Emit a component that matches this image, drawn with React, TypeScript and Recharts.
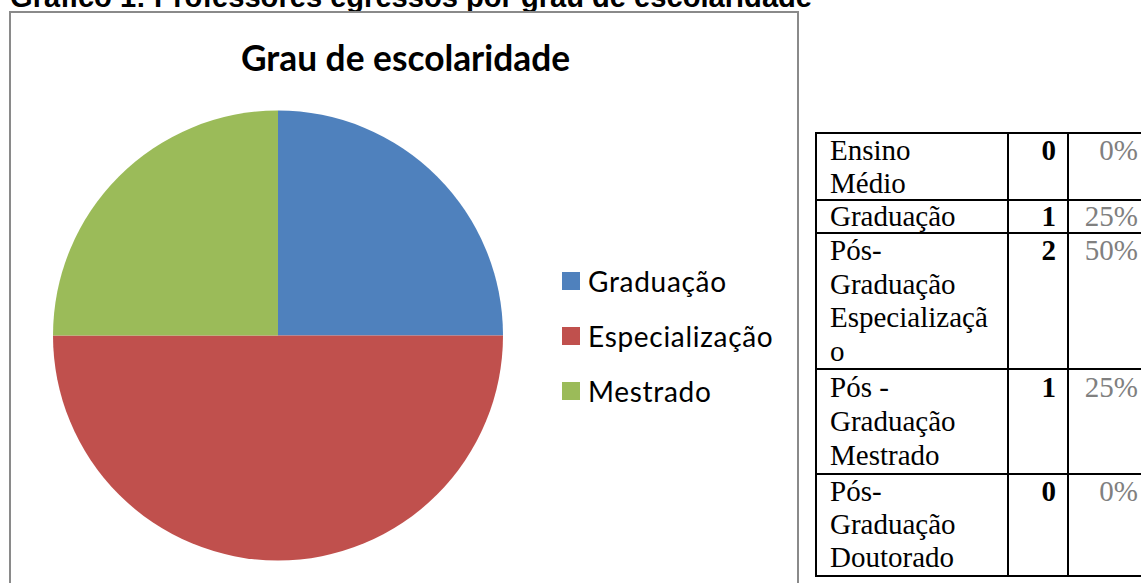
import React from "react";
import { PieChart, Pie, Cell, Legend } from "recharts";

const categories = ["Graduação", "Especialização", "Mestrado"];
const counts = [1, 2, 1];
const colors = ["#4F81BD", "#C0504D", "#9BBB59"];

const tableLabels = [
  ["Ensino", "Médio"],
  ["Graduação"],
  ["Pós-", "Graduação", "Especializaçã", "o"],
  ["Pós -", "Graduação", "Mestrado"],
  ["Pós-", "Graduação", "Doutorado"],
];
const tableCounts = [0, 1, 2, 1, 0];
const tablePercents = ["0%", "25%", "50%", "25%", "0%"];

const heading = "Gráfico 1: Professores egressos por grau de escolaridade";
const chartTitle = "Grau de escolaridade";

const pieData = categories.map((name, i) => ({ name, value: counts[i] }));

const rowHeights = [67, 33, 136, 105, 102];
const rowLineHeights = [32.5, 31, 33.5, 34, 33];

const renderLegend = (props: any) => {
  const payload = [...(props.payload || [])].sort(
    (a: any, b: any) => categories.indexOf(a.value) - categories.indexOf(b.value)
  );
  return (
    <div style={{ fontFamily: "Lato", fontSize: 28, letterSpacing: 0.7, color: "#000" }}>
      {payload.map((e: any) => {
        const idx = categories.indexOf(e.value);
        return (
          <div key={e.value} style={{ display: "flex", alignItems: "center", height: 55 }}>
            <span
              style={{
                display: "inline-block",
                width: 18,
                height: 18,
                background: colors[idx],
                marginRight: 8,
              }}
            />
            <span>{e.value}</span>
          </div>
        );
      })}
    </div>
  );
};

const cellStyle: React.CSSProperties = {
  border: "2px solid #000",
  padding: 0,
  verticalAlign: "top",
};

export default function App() {
  return (
    <div
      style={{
        position: "absolute",
        left: 0,
        top: 0,
        width: 1141,
        height: 583,
        overflow: "hidden",
        background: "#fff",
      }}
    >
      <svg width={1141} height={40} style={{ position: "absolute", left: 0, top: 0 }}>
        <text
          x={10}
          y={7}
          fontFamily="Liberation Sans"
          fontWeight="bold"
          fontSize={29.1}
          fill="#000"
        >
          {heading}
        </text>
      </svg>
      <div
        style={{
          position: "absolute",
          left: 9,
          top: 11,
          width: 786,
          height: 600,
          borderTop: "2px solid #8a8a8a",
          borderLeft: "2px solid #8a8a8a",
          borderRight: "2px solid #8a8a8a",
        }}
      />
      <div style={{ position: "absolute", left: 0, top: 0 }}>
        <PieChart width={800} height={583} margin={{ top: 0, right: 0, bottom: 0, left: 0 }}>
          <Pie
            data={pieData}
            dataKey="value"
            nameKey="name"
            cx={278}
            cy={335.5}
            outerRadius={225}
            startAngle={90}
            endAngle={-270}
            stroke="none"
            isAnimationActive={false}
          >
            {pieData.map((d, i) => (
              <Cell key={d.name} fill={colors[i]} />
            ))}
          </Pie>
          <Legend
            layout="vertical"
            align="right"
            verticalAlign="top"
            content={renderLegend}
            wrapperStyle={{ left: 562, top: 253.5, right: "auto", width: 236 }}
          />
        </PieChart>
      </div>
      <svg width={800} height={100} style={{ position: "absolute", left: 0, top: 0 }}>
        <text
          x={405.5}
          y={71}
          textAnchor="middle"
          fontFamily="Lato"
          fontWeight="bold"
          fontSize={35.3}
          fill="#000"
        >
          {chartTitle}
        </text>
      </svg>
      <table
        style={{
          position: "absolute",
          left: 815,
          top: 132,
          borderCollapse: "collapse",
          tableLayout: "fixed",
          width: 335,
          fontFamily: "Liberation Serif",
          fontSize: 29,
          color: "#000",
        }}
      >
        <colgroup>
          <col style={{ width: 192 }} />
          <col style={{ width: 60 }} />
          <col style={{ width: 83 }} />
        </colgroup>
        <tbody>
          {tableLabels.map((lines, r) => (
            <tr key={r} style={{ height: rowHeights[r], lineHeight: rowLineHeights[r] + "px" }}>
              <td style={{ ...cellStyle, paddingLeft: 13 }}>
                {lines.map((l, k) => (
                  <div key={k}>{l}</div>
                ))}
              </td>
              <td
                style={{
                  ...cellStyle,
                  textAlign: "right",
                  paddingRight: 11,
                  fontWeight: "bold",
                }}
              >
                {tableCounts[r]}
              </td>
              <td
                style={{
                  ...cellStyle,
                  textAlign: "right",
                  paddingRight: 12,
                  color: "#808080",
                }}
              >
                {tablePercents[r]}
              </td>
            </tr>
          ))}
        </tbody>
      </table>
    </div>
  );
}
